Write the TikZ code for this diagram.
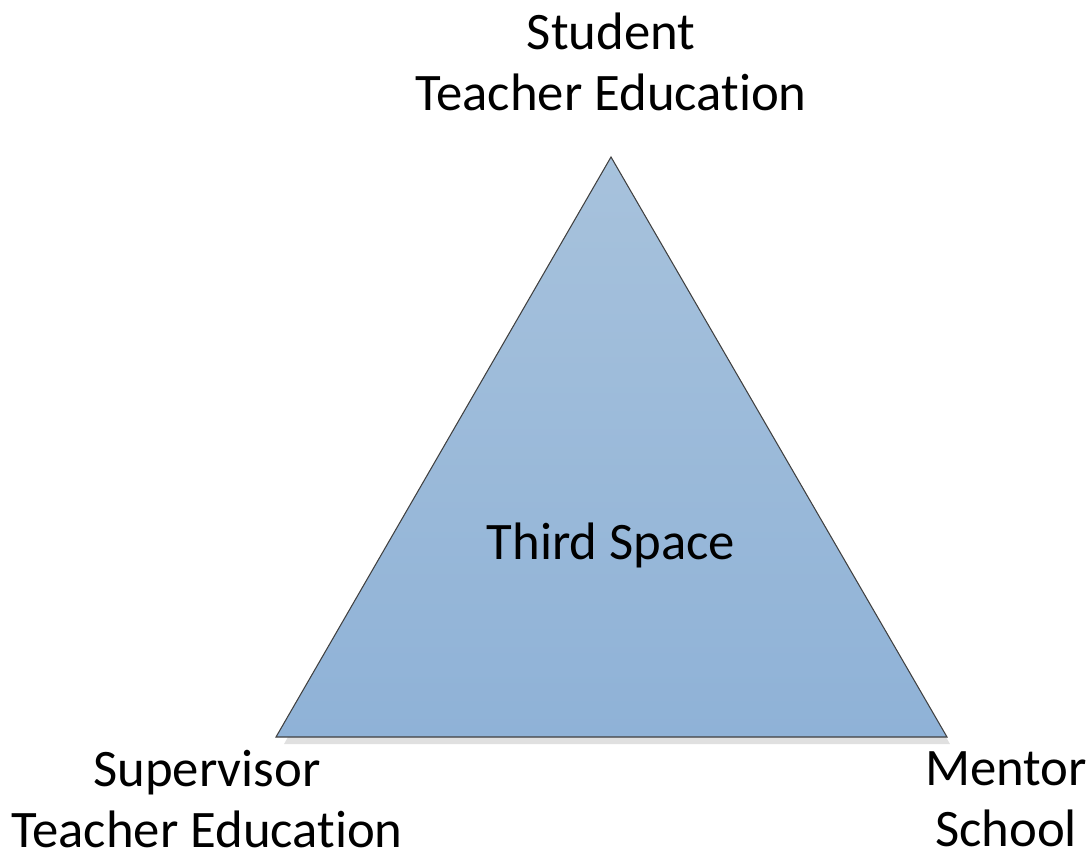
\documentclass[tikz,border=0pt]{standalone}
\usepackage{fontspec}
\setmainfont[Ligatures={NoCommon}]{Carlito}
\begin{document}
\begin{tikzpicture}[font=\fontsize{30}{34.5}\selectfont,
    corner/.style={align=center,inner sep=0pt}]
  \useasboundingbox (0,0) rectangle (21.82,16.96);
  \coordinate (top) at (12.22,13.82);
  \coordinate (left) at (5.52,2.22);
  \coordinate (right) at (18.94,2.22);
  % shadow
  \fill[black!12] ([shift={(0.16,-0.14)}]left) -- ([shift={(0.06,-0.14)}]top)
    -- ([shift={(0.06,-0.14)}]right) -- cycle;
  \shade[top color={rgb,255:red,167;green,194;blue,220},
    bottom color={rgb,255:red,143;green,178;blue,215},
    draw=black!75,line width=0.6pt]
    (top) -- (right) -- (left) -- cycle;
  \node[corner] (third) at (12.22,6.06) {Third Space};
  \node[corner] (student) at (12.22,15.72) {Student\\Teacher Education};
  \node[corner] (supervisor) at (4.14,0.98) {Supervisor\\Teacher Education};
  \node[corner] (mentor) at (20.12,0.98) {Mentor\\School};
\end{tikzpicture}
\end{document}
